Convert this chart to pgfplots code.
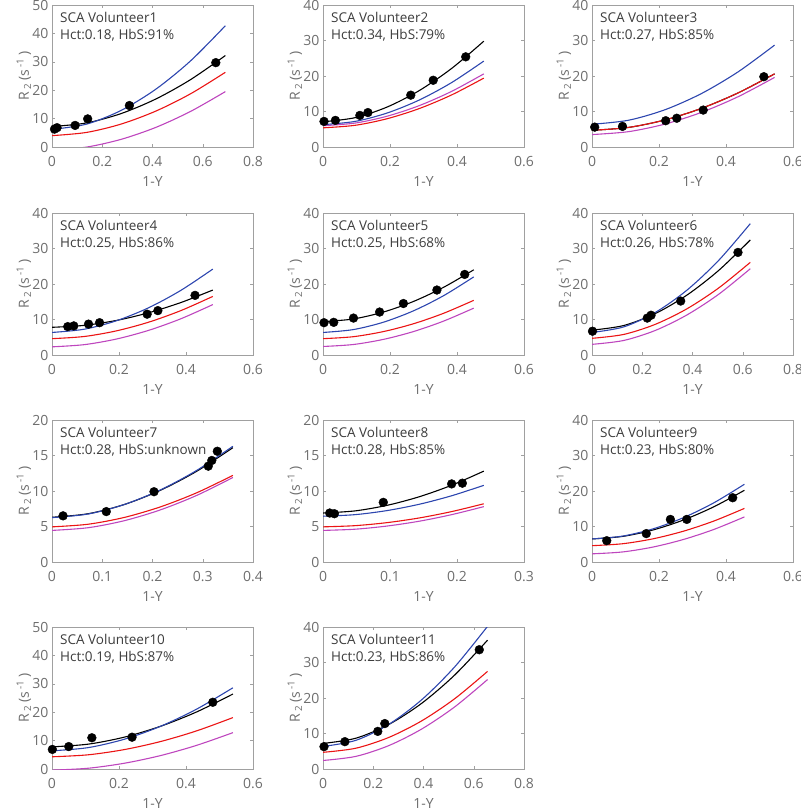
\documentclass[border=0pt]{standalone}
\usepackage{fontspec}
\setmainfont{Open Sans}
\usepackage{pgfplots}
\pgfplotsset{compat=1.18}

\definecolor{fitblue}{RGB}{45,70,175}
\definecolor{fitred}{RGB}{235,20,20}
\definecolor{fitmag}{RGB}{190,70,190}
\definecolor{tickgray}{RGB}{110,110,110}
\definecolor{boxgray}{RGB}{160,160,160}
\definecolor{titlegray}{RGB}{60,60,60}

\pgfplotsset{
  panel/.style={
    scale only axis, width=201pt, height=142pt, anchor=north west,
    xmin=0, ymin=0,
    axis line style={boxgray},
    every tick/.style={boxgray},
    tick align=inside, major tick length=3pt,
    /pgf/number format/assume math mode=true,
    ticklabel style={font=\fontsize{14}{14}\selectfont, text=tickgray},
    xticklabel style={yshift=-6pt},
    xlabel={1-Y},
    ylabel={R\,\textsubscript{2}\,(s\,\textsuperscript{-1}\,)},
    label style={font=\fontsize{14}{14}\selectfont, text=tickgray},
    xlabel style={at={(axis description cs:0.5,-0.245)}, anchor=center},
    ylabel style={at={(axis description cs:-0.14,0.5)}, anchor=center},
  },
  cb/.style={fitblue, line width=1.1pt, smooth},
  ck/.style={black, line width=1.1pt, smooth},
  cr/.style={fitred, line width=1.1pt, smooth},
  cm/.style={fitmag, line width=1.1pt, smooth},
  pts/.style={only marks, mark=*, mark size=4.4pt, black},
}
\newcommand{\paneltitle}[2]{\node[anchor=north west, align=left, inner sep=0pt,
  font=\fontsize{13.5}{17}\selectfont, text=titlegray, xshift=8pt, yshift=-7pt]
  at (rel axis cs:0,1) {#1\\#2};}

\begin{document}
\begin{tikzpicture}
\useasboundingbox (0,0) rectangle (800pt,-810pt);

% ---- row 1 ----
\begin{axis}[panel, at={(52pt,-5pt)}, xmax=0.8, xtick={0,0.2,0.4,0.6,0.8}, ymax=50, ytick={0,10,20,30,40,50}]
\addplot[ck] coordinates {(0,7.2)(0.138,8.48)(0.276,11.8)(0.414,16.93)(0.552,23.75)(0.69,32.2)};
\addplot[cm] coordinates {(0,-1.07)(0.138,-0.02)(0.276,2.72)(0.414,6.93)(0.552,12.55)(0.69,19.5)};
\addplot[cr] coordinates {(0,4.0)(0.138,5.14)(0.276,8.10)(0.414,12.67)(0.552,18.76)(0.69,26.3)};
\addplot[cb] coordinates {(0,6.2)(0.138,8.06)(0.276,12.92)(0.414,20.40)(0.552,30.36)(0.69,42.7)};
\addplot[pts] coordinates {(0.01,6.3)(0.02,6.8)(0.092,7.6)(0.142,9.9)(0.308,14.6)(0.652,29.7)};
\paneltitle{SCA Volunteer1}{Hct:0.18, HbS:91\%}
\end{axis}

\begin{axis}[panel, at={(323pt,-5pt)}, xmax=0.6, xtick={0,0.2,0.4,0.6}, ymax=40, ytick={0,10,20,30,40}]
\addplot[ck] coordinates {(0,7.1)(0.096,8.26)(0.192,11.28)(0.288,15.93)(0.384,22.13)(0.48,29.8)};
\addplot[cm] coordinates {(0,6.0)(0.096,6.74)(0.192,8.69)(0.288,11.68)(0.384,15.67)(0.48,20.6)};
\addplot[cr] coordinates {(0,5.4)(0.096,6.11)(0.192,7.98)(0.288,10.85)(0.384,14.67)(0.48,19.4)};
\addplot[cb] coordinates {(0,6.3)(0.096,7.21)(0.192,9.59)(0.288,13.26)(0.384,18.15)(0.48,24.2)};
\addplot[pts] coordinates {(0.003,7.2)(0.037,7.5)(0.11,8.9)(0.134,9.7)(0.262,14.6)(0.329,18.8)(0.426,25.4)};
\paneltitle{SCA Volunteer2}{Hct:0.34, HbS:79\%}
\end{axis}

\begin{axis}[panel, at={(592pt,-5pt)}, xmax=0.6, xtick={0,0.2,0.4,0.6}, ymax=40, ytick={0,10,20,30,40}]
\addplot[ck] coordinates {(0,4.7)(0.109,5.51)(0.218,7.63)(0.327,10.89)(0.436,15.23)(0.545,20.6)};
\addplot[cm] coordinates {(0,3.5)(0.109,4.32)(0.218,6.46)(0.327,9.76)(0.436,14.16)(0.545,19.6)};
\addplot[cr] coordinates {(0,4.7)(0.109,5.51)(0.218,7.63)(0.327,10.89)(0.436,15.23)(0.545,20.6)};
\addplot[cb] coordinates {(0,6.4)(0.109,7.54)(0.218,10.50)(0.327,15.07)(0.436,21.16)(0.545,28.7)};
\addplot[pts] coordinates {(0.008,5.6)(0.091,5.8)(0.22,7.4)(0.253,8.1)(0.332,10.4)(0.513,19.8)};
\paneltitle{SCA Volunteer3}{Hct:0.27, HbS:85\%}
\end{axis}

% ---- row 2 ----
\begin{axis}[panel, at={(52pt,-213pt)}, xmax=0.6, xtick={0,0.2,0.4,0.6}, ymax=40, ytick={0,10,20,30,40}]
\addplot[ck] coordinates {(0,7.8)(0.096,8.34)(0.192,9.73)(0.288,11.88)(0.384,14.75)(0.48,18.3)};
\addplot[cm] coordinates {(0,2.3)(0.096,2.91)(0.192,4.49)(0.288,6.93)(0.384,10.18)(0.48,14.2)};
\addplot[cr] coordinates {(0,4.6)(0.096,5.21)(0.192,6.79)(0.288,9.23)(0.384,12.48)(0.48,16.5)};
\addplot[cb] coordinates {(0,6.35)(0.096,7.26)(0.192,9.63)(0.288,13.29)(0.384,18.17)(0.48,24.2)};
\addplot[pts] coordinates {(0.047,8.0)(0.065,8.2)(0.109,8.7)(0.142,9.1)(0.284,11.5)(0.316,12.5)(0.427,16.8)};
\paneltitle{SCA Volunteer4}{Hct:0.25, HbS:86\%}
\end{axis}

\begin{axis}[panel, at={(323pt,-213pt)}, xmax=0.6, xtick={0,0.2,0.4,0.6}, ymax=40, ytick={0,10,20,30,40}]
\addplot[ck] coordinates {(0,9.4)(0.09,10.14)(0.18,12.09)(0.27,15.08)(0.36,19.07)(0.45,24.0)};
\addplot[cm] coordinates {(0,2.4)(0.09,2.95)(0.18,4.39)(0.27,6.60)(0.36,9.55)(0.45,13.2)};
\addplot[cr] coordinates {(0,4.6)(0.09,5.15)(0.18,6.59)(0.27,8.80)(0.36,11.75)(0.45,15.4)};
\addplot[cb] coordinates {(0,6.35)(0.09,7.15)(0.18,9.23)(0.27,12.44)(0.36,16.71)(0.45,22.0)};
\addplot[pts] coordinates {(0.003,9.1)(0.032,9.2)(0.091,10.4)(0.169,12.1)(0.24,14.5)(0.34,18.3)(0.423,22.7)};
\paneltitle{SCA Volunteer5}{Hct:0.25, HbS:68\%}
\end{axis}

\begin{axis}[panel, at={(592pt,-213pt)}, xmax=0.8, xtick={0,0.2,0.4,0.6,0.8}, ymax=40, ytick={0,10,20,30,40}]
\addplot[ck] coordinates {(0,7.0)(0.126,8.30)(0.252,11.67)(0.378,16.88)(0.504,23.81)(0.63,32.4)};
\addplot[cm] coordinates {(0,3.0)(0.126,4.09)(0.252,6.92)(0.378,11.29)(0.504,17.10)(0.63,24.3)};
\addplot[cr] coordinates {(0,4.7)(0.126,5.79)(0.252,8.64)(0.378,13.02)(0.504,18.87)(0.63,26.1)};
\addplot[cb] coordinates {(0,6.35)(0.126,7.91)(0.252,11.99)(0.378,18.27)(0.504,26.64)(0.63,37.0)};
\addplot[pts] coordinates {(0.002,6.7)(0.22,10.4)(0.235,11.2)(0.353,15.2)(0.581,28.9)};
\paneltitle{SCA Volunteer6}{Hct:0.26, HbS:78\%}
\end{axis}

% ---- row 3 ----
\begin{axis}[panel, at={(52pt,-420pt)}, xmax=0.4, xtick={0,0.1,0.2,0.3,0.4}, ymax=20, ytick={0,5,10,15,20}]
\addplot[ck] coordinates {(0,6.3)(0.072,6.80)(0.144,8.10)(0.216,10.11)(0.288,12.78)(0.36,16.1)};
\addplot[cm] coordinates {(0,4.45)(0.072,4.83)(0.144,5.82)(0.216,7.35)(0.288,9.38)(0.36,11.9)};
\addplot[cr] coordinates {(0,4.95)(0.072,5.32)(0.144,6.28)(0.216,7.77)(0.288,9.75)(0.36,12.2)};
\addplot[cb] coordinates {(0,6.25)(0.072,6.76)(0.144,8.10)(0.216,10.16)(0.288,12.90)(0.36,16.3)};
\addplot[pts] coordinates {(0.022,6.5)(0.108,7.1)(0.203,9.9)(0.311,13.5)(0.318,14.3)(0.329,15.6)};
\paneltitle{SCA Volunteer7}{Hct:0.28, HbS:unknown}
\end{axis}

\begin{axis}[panel, at={(323pt,-420pt)}, xmax=0.3, xtick={0,0.1,0.2,0.3}, ymax=20, ytick={0,5,10,15,20}]
\addplot[ck] coordinates {(0,6.9)(0.048,7.20)(0.096,7.99)(0.144,9.20)(0.192,10.81)(0.24,12.8)};
\addplot[cm] coordinates {(0,4.45)(0.048,4.62)(0.096,5.07)(0.144,5.75)(0.192,6.67)(0.24,7.8)};
\addplot[cr] coordinates {(0,4.95)(0.048,5.12)(0.096,5.55)(0.144,6.21)(0.192,7.10)(0.24,8.2)};
\addplot[cb] coordinates {(0,6.45)(0.048,6.67)(0.096,7.25)(0.144,8.14)(0.192,9.33)(0.24,10.8)};
\addplot[pts] coordinates {(0.01,6.9)(0.017,6.8)(0.09,8.4)(0.192,11.0)(0.208,11.1)};
\paneltitle{SCA Volunteer8}{Hct:0.28, HbS:85\%}
\end{axis}

\begin{axis}[panel, at={(592pt,-420pt)}, xmax=0.6, xtick={0,0.2,0.4,0.6}, ymax=40, ytick={0,10,20,30,40}]
\addplot[ck] coordinates {(0,6.5)(0.091,7.20)(0.182,9.02)(0.273,11.83)(0.364,15.57)(0.455,20.2)};
\addplot[cm] coordinates {(0,2.3)(0.091,2.83)(0.182,4.21)(0.273,6.35)(0.364,9.18)(0.455,12.7)};
\addplot[cr] coordinates {(0,4.6)(0.091,5.14)(0.182,6.53)(0.273,8.68)(0.364,11.55)(0.455,15.1)};
\addplot[cb] coordinates {(0,6.5)(0.091,7.29)(0.182,9.33)(0.273,12.49)(0.364,16.69)(0.455,21.9)};
\addplot[pts] coordinates {(0.044,6.0)(0.162,8.0)(0.234,12.0)(0.283,12.0)(0.42,18.1)};
\paneltitle{SCA Volunteer9}{Hct:0.23, HbS:80\%}
\end{axis}

% ---- row 4 ----
\begin{axis}[panel, at={(52pt,-627pt)}, xmax=0.6, xtick={0,0.2,0.4,0.6}, ymax=50, ytick={0,10,20,30,40,50}]
\addplot[ck] coordinates {(0,7.8)(0.108,8.75)(0.216,11.22)(0.324,15.04)(0.432,20.11)(0.54,26.4)};
\addplot[cm] coordinates {(0,-0.4)(0.108,0.27)(0.216,2.03)(0.324,4.73)(0.432,8.34)(0.54,12.8)};
\addplot[cr] coordinates {(0,4.3)(0.108,5.00)(0.216,6.84)(0.324,9.67)(0.432,13.44)(0.54,18.1)};
\addplot[cb] coordinates {(0,6.4)(0.108,7.53)(0.216,10.48)(0.324,15.04)(0.432,21.10)(0.54,28.6)};
\addplot[pts] coordinates {(0.001,6.9)(0.05,7.9)(0.119,11.0)(0.239,11.2)(0.48,23.5)};
\paneltitle{SCA Volunteer10}{Hct:0.19, HbS:87\%}
\end{axis}

\begin{axis}[panel, at={(323pt,-627pt)}, xmax=0.8, xtick={0,0.2,0.4,0.6,0.8}, ymax=40, ytick={0,10,20,30,40}]
\addplot[ck] coordinates {(0,7.2)(0.131,8.68)(0.262,12.55)(0.393,18.52)(0.524,26.46)(0.655,36.3)};
\addplot[cm] coordinates {(0,2.4)(0.131,3.56)(0.262,6.60)(0.393,11.27)(0.524,17.49)(0.655,25.2)};
\addplot[cr] coordinates {(0,4.7)(0.131,5.86)(0.262,8.90)(0.393,13.57)(0.524,19.79)(0.655,27.5)};
\addplot[cb] coordinates {(0,6.35)(0.131,8.08)(0.262,12.58)(0.393,19.52)(0.524,28.76)(0.655,40.2)};
\addplot[pts] coordinates {(0.004,6.3)(0.087,7.7)(0.218,10.6)(0.246,12.8)(0.622,33.6)};
\paneltitle{SCA Volunteer11}{Hct:0.23, HbS:86\%}
\end{axis}
\end{tikzpicture}
\end{document}
